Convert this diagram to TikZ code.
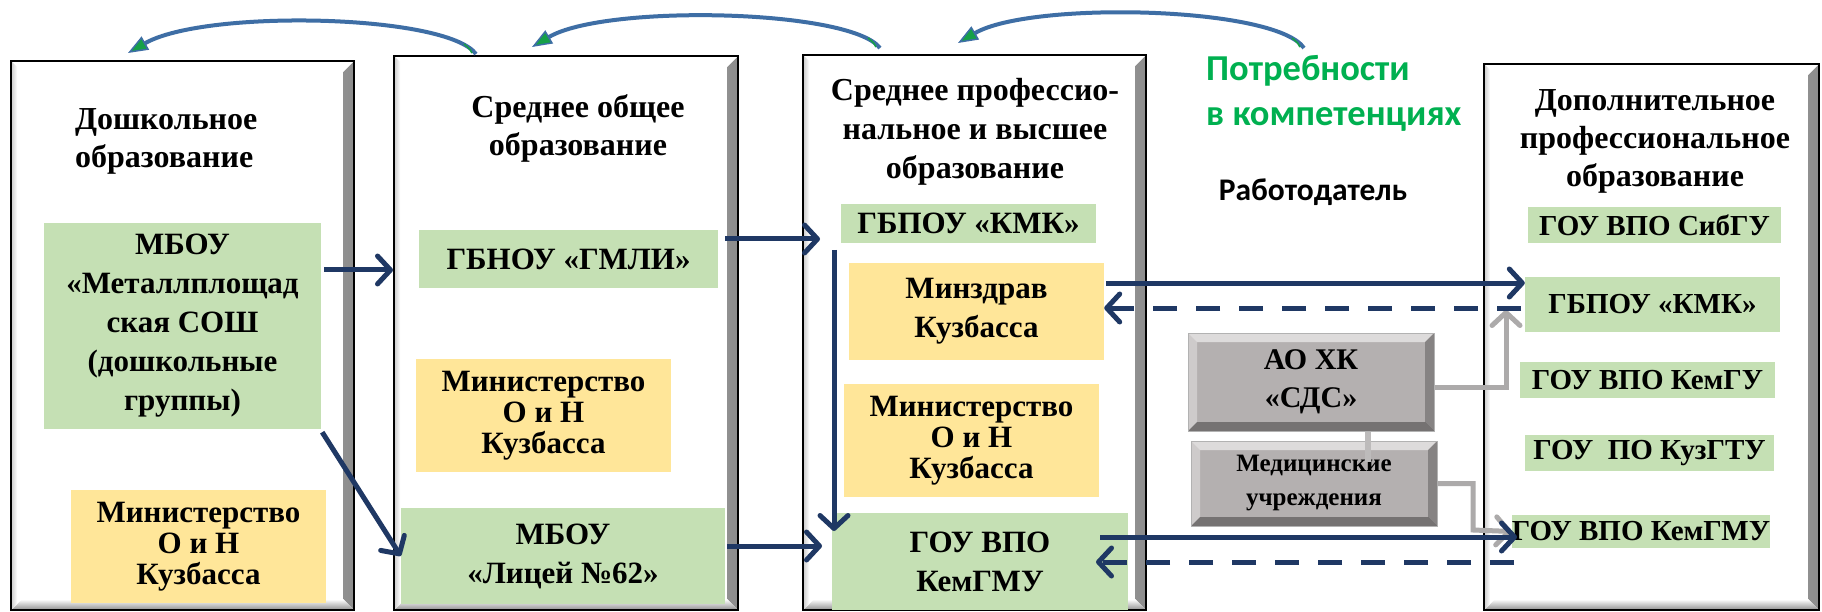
\documentclass[tikz,border=0pt]{standalone}
\usepackage{fontspec}
\setmainfont{Liberation Serif}
\newfontfamily\calfont{Carlito}
\usetikzlibrary{arrows.meta}
\definecolor{navy}{RGB}{31,56,100}
\definecolor{lgreen}{RGB}{197,224,180}
\definecolor{lyellow}{RGB}{255,230,153}
\definecolor{gbox}{RGB}{180,176,176}
\definecolor{gline}{RGB}{172,170,170}
\definecolor{arcblue}{RGB}{62,110,165}
\definecolor{arcgreen}{RGB}{22,160,72}
\definecolor{txtgreen}{RGB}{0,176,80}
\begin{document}
\begin{tikzpicture}[x=1pt,y=-1pt,
  colbox/.style={draw=black, line width=2.4pt, fill=white, inner sep=0pt, anchor=north west,
    path picture={
      \shade[left color=white, right color=black!45]
        (path picture bounding box.north east) -- (path picture bounding box.south east)
        -- ([xshift=-11pt,yshift=11pt]path picture bounding box.south east)
        -- ([xshift=-11pt,yshift=-11pt]path picture bounding box.north east) -- cycle;
      \shade[top color=white, bottom color=black!45]
        (path picture bounding box.south west) -- (path picture bounding box.south east)
        -- ([xshift=-11pt,yshift=11pt]path picture bounding box.south east)
        -- ([xshift=11pt,yshift=11pt]path picture bounding box.south west) -- cycle;
      \shade[left color=black!20, right color=white]
        (path picture bounding box.north west) -- (path picture bounding box.south west)
        -- ([xshift=6pt,yshift=6pt]path picture bounding box.south west)
        -- ([xshift=6pt,yshift=-6pt]path picture bounding box.north west) -- cycle;
    }},
  gbx/.style={fill=lgreen, inner sep=0pt, align=center,
    font=\bfseries\fontsize{31}{39}\selectfont},
  sgbx/.style={fill=lgreen, inner sep=0pt, align=center,
    font=\bfseries\fontsize{29}{35}\selectfont},
  ybx/.style={fill=lyellow, inner sep=0pt, align=center,
    font=\bfseries\fontsize{31}{31}\selectfont},
  ybxw/.style={ybx, font=\bfseries\fontsize{31}{39}\selectfont},
  grybx/.style={fill=gbox, draw=black!30, line width=1pt, inner sep=0pt, align=center,
    path picture={
      \fill[white,opacity=0.55] (path picture bounding box.north west) -- (path picture bounding box.north east)
        -- ([xshift=-9pt,yshift=-9pt]path picture bounding box.north east)
        -- ([xshift=9pt,yshift=-9pt]path picture bounding box.north west) -- cycle;
      \fill[white,opacity=0.35] (path picture bounding box.north west) -- (path picture bounding box.south west)
        -- ([xshift=9pt,yshift=9pt]path picture bounding box.south west)
        -- ([xshift=9pt,yshift=-9pt]path picture bounding box.north west) -- cycle;
      \fill[black,opacity=0.35] (path picture bounding box.south west) -- (path picture bounding box.south east)
        -- ([xshift=-9pt,yshift=9pt]path picture bounding box.south east)
        -- ([xshift=9pt,yshift=9pt]path picture bounding box.south west) -- cycle;
      \fill[black,opacity=0.25] (path picture bounding box.north east) -- (path picture bounding box.south east)
        -- ([xshift=-9pt,yshift=9pt]path picture bounding box.south east)
        -- ([xshift=-9pt,yshift=-9pt]path picture bounding box.north east) -- cycle;
    }},
  ttl/.style={inner sep=0pt, align=center, font=\bfseries\fontsize{32}{38}\selectfont},
  narr/.style={draw=navy, line width=5pt, -{Straight Barb[length=13pt,width=28pt,round]}},
  ndash/.style={narr, dash pattern=on 24pt off 19pt},
  garr/.style={draw=gline, line width=5pt, -{Straight Barb[length=13pt,width=28pt,round]}},
  arcarr/.style={draw=arcblue, line width=4pt,
    -{Triangle[length=20pt,width=15pt,fill=arcgreen,line width=1.5pt]}},
  arctail/.style={draw=arcgreen, line width=1.6pt}
]
\useasboundingbox (0,0) rectangle (1822,612);
\fill[white] (0,0) rectangle (1822,612);

% column boxes
\node[colbox, minimum width=343pt, minimum height=549pt] (c1) at (10,60) {};
\node[colbox, minimum width=344pt, minimum height=554pt] (c2) at (393,55) {};
\node[colbox, minimum width=343pt, minimum height=555pt] (c3) at (802,54) {};
\node[colbox, minimum width=335pt, minimum height=546pt] (c5) at (1483,63) {};

% titles
\node[ttl, align=left, anchor=west] (t1) at (75,141) {Дошкольное\\образование};
\node[ttl] (t2) at (578,128) {Среднее общее\\образование};
\node[ttl, font=\bfseries\fontsize{32}{39}\selectfont] (t3) at (975,132) {Среднее профессио-\\нальное и высшее\\образование};
\node[ttl] (t5) at (1655,141) {Дополнительное\\профессиональное\\образование};
\node[inner sep=0pt, align=left, anchor=west, text=txtgreen,
  font=\calfont\bfseries\fontsize{36.5}{45}\selectfont] (need) at (1206,93) {Потребности\\в компетенциях};
\node[inner sep=0pt, font=\calfont\bfseries\fontsize{31.5}{36}\selectfont] (emp) at (1313,192) {Работодатель};

% column 1
\node[gbx, minimum width=277pt, minimum height=206pt] (mbou1) at (182.5,326)
  {МБОУ\\«Металлплощад\\ская СОШ\\(дошкольные\\группы)};
\node[ybx, minimum width=255pt, minimum height=113pt] (min1) at (198.5,546.5)
  {Министерство\\О и Н\\Кузбасса};
% column 2
\node[gbx, minimum width=299pt, minimum height=58pt] (gbnou) at (568.5,259) {ГБНОУ «ГМЛИ»};
\node[ybx, minimum width=255pt, minimum height=113pt] (min2) at (543.5,415.5)
  {Министерство\\О и Н\\Кузбасса};
\node[gbx, minimum width=324pt, minimum height=96pt] (licey) at (563,556) {МБОУ\\«Лицей №62»};
% column 3
\node[gbx, minimum width=255pt, minimum height=39pt] (gbpou3) at (968.5,223.5) {ГБПОУ «КМК»};
\node[ybxw, minimum width=255pt, minimum height=97pt] (minzdrav) at (976.5,311.5) {Минздрав\\Кузбасса};
\node[ybx, minimum width=255pt, minimum height=113pt] (min3) at (971.5,440.5)
  {Министерство\\О и Н\\Кузбасса};
\node[gbx, minimum width=296pt, minimum height=97pt] (kemgmu3) at (980,561.5) {ГОУ ВПО\\КемГМУ};
% employer
\node[grybx, minimum width=246pt, minimum height=98pt, font=\bfseries\fontsize{30}{38}\selectfont] (ao) at (1311,382) {АО ХК\\«СДС»};
\node[grybx, minimum width=246pt, minimum height=85pt, font=\bfseries\fontsize{25}{34}\selectfont] (med) at (1314,483.5) {Медицинские\\учреждения};
% column 5
\node[sgbx, minimum width=253pt, minimum height=36pt] (sibgu) at (1654.5,225) {ГОУ ВПО СибГУ};
\node[sgbx, minimum width=255pt, minimum height=55pt] (gbpou5) at (1652.5,304.5) {ГБПОУ «КМК»};
\node[sgbx, minimum width=255pt, minimum height=36pt] (kemgu) at (1647.5,380) {ГОУ ВПО КемГУ};
\node[sgbx, minimum width=249pt, minimum height=36pt] (kuzgtu) at (1649.5,453) {ГОУ\ \ ПО КузГТУ};
\node[sgbx, minimum width=254pt, minimum height=33pt] (kemgmu5) at (1641,531.5) {ГОУ ВПО КемГМУ};

% gray connectors
\coordinate (g1) at (1506,310);
\draw[garr, line join=miter] ([yshift=-5pt]ao.east) -| (g1);
\draw[garr, line join=miter] (med.east) -- (1473,483.5) -- (1473,530) -- (kemgmu5.west);
\draw[draw=gline!80!white, line width=6pt] (ao.south -| 1368,0) -- (1368,462);

% navy arrows
\coordinate (p1) at (324,270);
\draw[narr] (p1) -- (c2.west |- p1);
\draw[narr] ([xshift=1pt,yshift=-3pt]mbou1.south east) -- (licey.west);
\coordinate (p3) at (725,239);
\coordinate (q3) at (820,239);
\draw[narr] (p3) -- (q3);
\coordinate (p4) at (727,546);
\coordinate (q4) at (822,546);
\draw[narr] (p4) -- (q4);
\coordinate (p5) at (834,250);
\coordinate (q5) at (834,531);
\draw[narr] (p5) -- (q5);
\coordinate (p6) at (1106,283);
\draw[narr] (p6) -- (gbpou5.west |- p6);
\coordinate (p7) at (1521,308);
\draw[ndash] (p7) -- (minzdrav.east |- p7);
\coordinate (p8) at (1100,537);
\coordinate (q8) at (1517,537);
\draw[narr] (p8) -- (q8);
\coordinate (p9) at (1514,562);
\coordinate (q9) at (1096,562);
\draw[ndash] (p9) -- (q9);

% top arcs
\coordinate (a1s) at (476,54); \coordinate (a1e) at (128,53);
\draw[arcarr] (a1s) .. controls (446,14) and (205,9) .. (a1e);
\draw[arctail] (472,53) .. controls (470,49) .. (464,44);
\coordinate (a2s) at (880,48); \coordinate (a2e) at (532,47);
\draw[arcarr] (a2s) .. controls (850,9) and (605,4) .. (a2e);
\draw[arctail] (876,47) .. controls (874,43) .. (868,38);
\coordinate (a3s) at (1304,48); \coordinate (a3e) at (958,43);
\draw[arcarr] (a3s) .. controls (1275,6) and (1030,1) .. (a3e);
\draw[arctail] (1300,47) .. controls (1298,43) .. (1292,38);
\end{tikzpicture}
\end{document}
